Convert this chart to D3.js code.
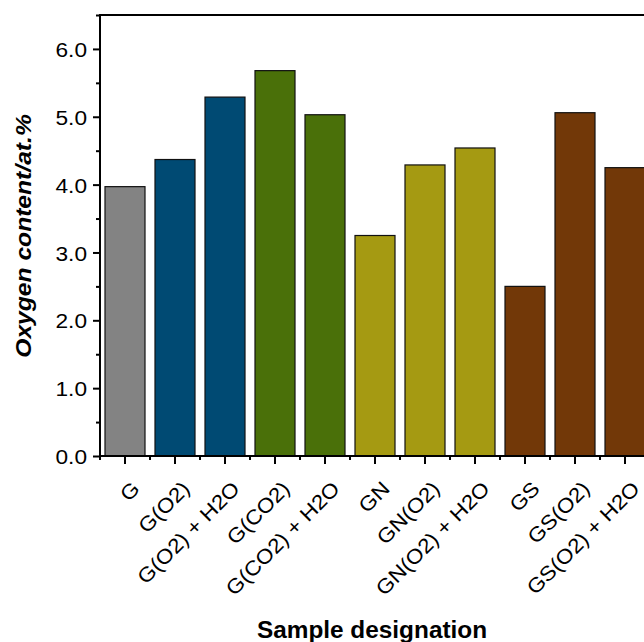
<!DOCTYPE html>
<html>
<head>
<meta charset="utf-8">
<script src="https://cdn.jsdelivr.net/npm/d3@7"></script>
<style>
  html, body { margin: 0; padding: 0; background: #fff; overflow: hidden; }
  svg { display: block; }
  text { font-family: "Liberation Sans", Arial, sans-serif; fill: #000; }
</style>
</head>
<body>
<svg id="chart" width="644" height="642"></svg>
<script>
const categories = ["G", "G(O2)", "G(O2) + H2O", "G(CO2)", "G(CO2) + H2O", "GN", "GN(O2)", "GN(O2) + H2O", "GS", "GS(O2)", "GS(O2) + H2O"];
const values = [3.97, 4.37, 5.29, 5.68, 5.03, 3.25, 4.29, 4.54, 2.50, 5.06, 4.25];
const groups = ["G", "O2", "O2", "CO2", "CO2", "N", "N", "N", "S", "S", "S"];
const groupNames = ["G", "O2", "CO2", "N", "S"];
const groupColors = ["#838383", "#004a73", "#4a7009", "#a59a12", "#723808"];
const yMajorTicks = [0, 1, 2, 3, 4, 5, 6];
const yMinorTicks = [0.5, 1.5, 2.5, 3.5, 4.5, 5.5, 6.5];
const yDomain = [0, 6.5];
const xTitle = "Sample designation";
const yTitle = "Oxygen content/at.%";

const svg = d3.select("#chart");
const mLeft = 100, mRight = 650, mTop = 15, mBottom = 456;

const x = d3.scaleBand().domain(categories).range([mLeft, mRight]).paddingInner(0.2).paddingOuter(0.1);
const y = d3.scaleLinear().domain(yDomain).range([mBottom, mTop]);
const color = d3.scaleOrdinal().domain(groupNames).range(groupColors);

// bars
svg.append("g").selectAll("rect")
  .data(categories)
  .join("rect")
  .attr("x", d => x(d))
  .attr("width", x.bandwidth())
  .attr("y", (d, i) => y(values[i]))
  .attr("height", (d, i) => y(0) - y(values[i]))
  .attr("fill", (d, i) => color(groups[i]))
  .attr("stroke", "#111")
  .attr("stroke-width", 1.2);

// y axis major
const yAxis = svg.append("g").attr("transform", `translate(${mLeft},0)`)
  .call(d3.axisLeft(y).tickValues(yMajorTicks).tickSize(7).tickFormat(d3.format(".1f")));
yAxis.select(".domain").remove();
yAxis.selectAll("line").attr("stroke", "#000").attr("stroke-width", 2);
yAxis.selectAll("text").remove();
yAxis.selectAll(".tick").append("text")
  .attr("text-anchor", "end")
  .attr("transform", "translate(-13,0) scale(1.08,1)")
  .attr("dy", "0.36em")
  .style("font-size", "21px")
  .text(d => d3.format(".1f")(d));

// y axis minor
const yMinor = svg.append("g").attr("transform", `translate(${mLeft},0)`)
  .call(d3.axisLeft(y).tickValues(yMinorTicks).tickSize(4).tickFormat(""));
yMinor.select(".domain").remove();
yMinor.selectAll("line").attr("stroke", "#000").attr("stroke-width", 2);

// x axis major (ticks at band centres)
const xAxis = svg.append("g").attr("transform", `translate(0,${mBottom})`)
  .call(d3.axisBottom(x).tickSize(8).tickSizeOuter(0));
xAxis.select(".domain").remove();
xAxis.selectAll("line").attr("stroke", "#000").attr("stroke-width", 2);
xAxis.selectAll("text").remove();
xAxis.selectAll(".tick").append("text")
  .attr("text-anchor", "end")
  .attr("transform", "translate(16,34) rotate(-45) scale(1.1,1)")
  .style("font-size", "20.5px")
  .text(d => d);

// x axis minor (ticks at band boundaries)
const gap = x.step() - x.bandwidth();
const bounds = categories.map(c => x(c) - gap / 2).concat([x(categories[categories.length - 1]) + x.bandwidth() + gap / 2]);
svg.append("g").selectAll("line")
  .data(bounds)
  .join("line")
  .attr("x1", d => d).attr("x2", d => d)
  .attr("y1", mBottom).attr("y2", mBottom + 4)
  .attr("stroke", "#000").attr("stroke-width", 2);

// frame lines
svg.append("line").attr("x1", mLeft).attr("x2", mRight).attr("y1", mBottom).attr("y2", mBottom)
  .attr("stroke", "#000").attr("stroke-width", 2);
svg.append("line").attr("x1", mLeft).attr("x2", mLeft).attr("y1", mTop).attr("y2", mBottom + 1)
  .attr("stroke", "#000").attr("stroke-width", 2);
svg.append("line").attr("x1", mLeft - 1).attr("x2", mRight).attr("y1", mTop).attr("y2", mTop)
  .attr("stroke", "#000").attr("stroke-width", 2);

// titles
svg.append("text")
  .attr("text-anchor", "middle")
  .attr("transform", "translate(372,638) scale(1.06,1)")
  .style("font-size", "23px").style("font-weight", "bold")
  .text(xTitle);

svg.append("text")
  .attr("text-anchor", "middle")
  .attr("transform", "translate(31,236) rotate(-90) scale(1.12,1)")
  .style("font-size", "22px").style("font-weight", "bold").style("font-style", "italic")
  .text(yTitle);
</script>
</body>
</html>
